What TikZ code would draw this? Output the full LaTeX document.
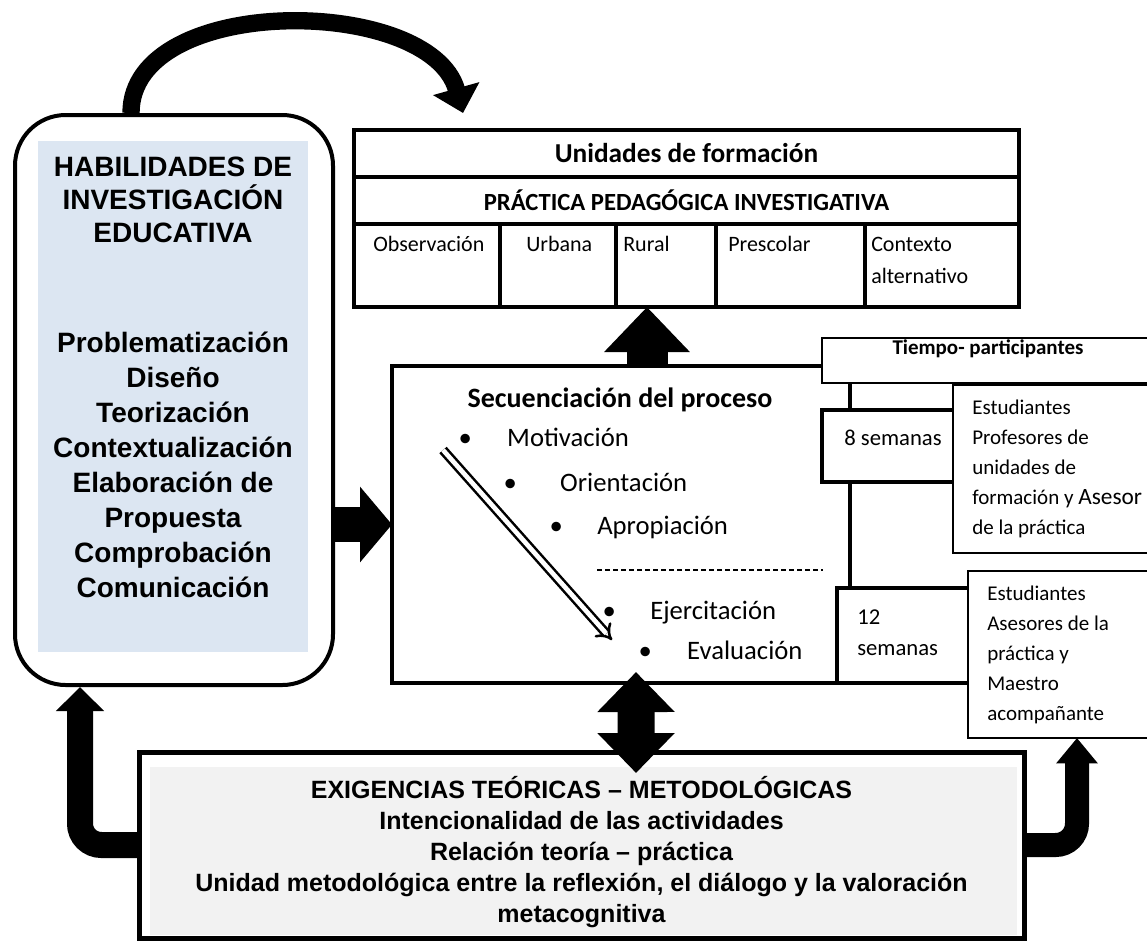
\documentclass[tikz,border=0pt]{standalone}
\usepackage{fontspec}
\setmainfont{Carlito}
\newfontfamily\arialfont{Liberation Sans}
\usetikzlibrary{positioning, arrows.meta}
\definecolor{skillblue}{RGB}{220,230,242}
\definecolor{exiggray}{RGB}{242,242,242}

\begin{document}
\begin{tikzpicture}[x=0.75pt, y=-0.75pt,
  thick box/.style={draw, line width=3pt, outer sep=0pt, inner sep=0pt},
  thin box/.style={draw, fill=white, line width=1.2pt, outer sep=0pt, inner sep=0pt},
  cell/.style={thick box, minimum height=62.25pt},
  head text/.style={font=\bfseries\fontsize{#1}{22}\selectfont},
  cell text/.style={anchor=north west, inner sep=0pt, align=left, font=\fontsize{16.5}{24}\selectfont},
  skill text/.style={inner sep=0pt, align=center, font=\arialfont\bfseries\fontsize{21}{#1}\selectfont},
  seq item/.style={anchor=base west, inner sep=0pt, font=\fontsize{20}{24}\selectfont},
  side text/.style={anchor=north west, inner sep=0pt, align=left, font=\fontsize{15.75}{22.5}\selectfont},
  week text/.style={inner sep=0pt, align=left, font=\fontsize{17}{23.25}\selectfont},
  up arrow/.style={line width=30.75pt, -{Triangle[length=33.75pt, width=62.25pt]}},
  side arrow/.style={line width=26.25pt, -{Triangle[length=24pt, width=55.5pt]}},
  twin arrow/.style={line width=27.75pt, {Triangle[length=30pt, width=56.25pt]}-{Triangle[length=30pt, width=56.25pt]}},
  back arrow/.style={line width=#1, rounded corners=16pt},
  top arrow/.style={line width=13pt, -{Triangle[length=19pt, width=35pt]}},
  hollow arrow/.style={double, double distance=3.5pt, line width=1.9pt, -{Implies}},
  ]
\useasboundingbox (0,0) rectangle (1147,940);

\node[thick box, outer sep=1.5pt, rounded corners=38pt, minimum width=238.5pt, minimum height=427.5pt] (skills) at (174,400) {};
\node[fill=skillblue, inner sep=0pt, minimum width=202.5pt, minimum height=383.25pt] (skills bg) at (173,396.5) {};
\node[skill text=24.75] (skills title) at (173,200) {HABILIDADES DE\\INVESTIGACIÓN\\EDUCATIVA};
\node[skill text=26.25] (skills list) at (173,465) {Problematización\\Diseño\\Teorización\\Contextualización\\Elaboración de\\Propuesta\\Comprobación\\Comunicación};

\node[thick box, head text=20.5, minimum width=498.75pt, minimum height=35.25pt] (units) at (686.5,153.5) {Unidades de formación};
\node[thick box, head text=18.5, minimum width=498.75pt, minimum height=35.25pt, below=0pt of units] (practice) {PRÁCTICA PEDAGÓGICA INVESTIGATIVA};
\node[cell, minimum width=109.5pt, below right=0pt of practice.south west] (obs) {};
\node[cell, minimum width=87pt, right=0pt of obs] (urban) {};
\node[cell, minimum width=75pt, right=0pt of urban] (rural) {};
\node[cell, minimum width=111.75pt, right=0pt of rural] (presc) {};
\node[cell, minimum width=115.5pt, right=0pt of presc] (context) {};
\node[cell text] at (373,236) {Observación};
\node[cell text] at (526,236) {Urbana};
\node[cell text] at (623,236) {Rural};
\node[cell text] at (728,236) {Prescolar};
\node[cell text] at (871,237) {Contexto\\alternativo};

\node[thick box, line width=3.4pt, minimum width=343.5pt, minimum height=237.75pt] (seq box) at (621,524.5) {};
\node[font=\bfseries\fontsize{21}{25}\selectfont] (seq title) at (620,400) {Secuenciación del proceso};
\node[seq item] (motiv) at (465,446) {\makebox[0pt]{•}\hspace{31.5pt}Motivación};
\node[seq item] (orient) at (510,491) {\makebox[0pt]{•}\hspace{37.5pt}Orientación};
\node[seq item] (apro) at (556,534) {\makebox[0pt]{•}\hspace{30.75pt}Apropiación};
\node[seq item] (ejer) at (609,619) {\makebox[0pt]{•}\hspace{30.75pt}Ejercitación};
\node[seq item] (eval) at (645,659) {\makebox[0pt]{•}\hspace{31.5pt}Evaluación};
\draw[line width=1.1pt, dash pattern=on 3.9pt off 2.1pt] (597,570) -- (823,570);
\draw[hollow arrow] ([xshift=-16.5pt,yshift=-3pt]motiv.base west) -- ([xshift=2.25pt,yshift=-15.75pt]ejer.base west);

\node[thick box, line width=3.4pt, fill=white, minimum width=111pt, minimum height=54pt] (eight) at (896,446) {};
\node[thick box, line width=3.4pt, fill=white, minimum width=114.75pt, minimum height=71.25pt] (twelve) at (913.5,635.5) {};
\node[thin box, minimum width=246pt, minimum height=33.75pt] (time) at (986,360.5) {};
\node[thin box, minimum width=147.75pt, minimum height=126pt] (estud one) at (1051.5,469) {};
\node[thin box, minimum width=136.5pt, minimum height=125.25pt] (estud two) at (1059,654.5) {};
\node[font=\bfseries\fontsize{15.75}{19}\selectfont] at (988,349) {Tiempo- participantes};
\node[week text] at (893,438) {8 semanas};
\node[week text, anchor=north west] at (857,610) {12\\semanas};
\node[side text] at (972,400) {Estudiantes\\Profesores de\\unidades de\\formación y {\fontsize{17.5}{22.5}\selectfont Asesor}\\de la práctica};
\node[side text] at (987,586) {Estudiantes\\Asesores de la\\práctica y\\Maestro\\acompañante};

\node[thick box, line width=3.75pt, minimum width=663.75pt, minimum height=139.5pt] (exig) at (581.5,845) {};
\node[fill=exiggray, inner sep=0pt, minimum width=650.25pt, minimum height=126pt] (exig bg) at (583.5,851) {};
\node[inner sep=0pt, align=center, font=\arialfont\bfseries\fontsize{18.75}{23.25}\selectfont] (exig text) at (581.5,852) {EXIGENCIAS TEÓRICAS – METODOLÓGICAS\\Intencionalidad de las actividades\\Relación teoría – práctica\\Unidad metodológica entre la reflexión, el diálogo y la valoración\\metacognitiva};

\draw[top arrow] ([xshift=-32.25pt]skills.north) .. controls +(0,-120) and +(-33,-118) .. ([xshift=-167.6pt,yshift=12.75pt]units.north);
\draw[up arrow] ([xshift=19.5pt]seq box.north) -- ([xshift=-14.25pt]rural.south);
\draw[side arrow] (skills.east |- seq box.west) -- (seq box.west);
\draw[twin arrow] ([xshift=40.9pt,yshift=-15.75pt]exig.north) -- ([xshift=11.25pt,yshift=8.25pt]seq box.south);
\draw[back arrow=19.5pt, -{Triangle[length=18pt, width=35pt]}] (exig.west) -| ([xshift=-70.5pt]skills.south);
\draw[back arrow=18pt, -{Triangle[length=19pt, width=30pt]}] (exig.east) -| ([xshift=13.5pt]estud two.south);

\end{tikzpicture}
\end{document}
